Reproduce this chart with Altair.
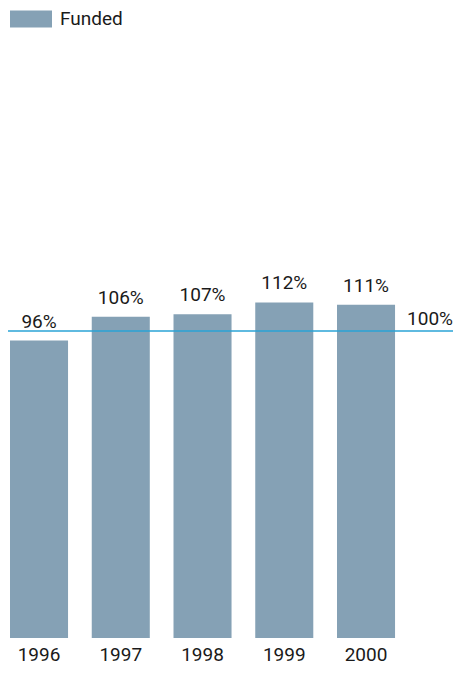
import altair as alt
import pandas as pd

YEARS = ["1996", "1997", "1998", "1999", "2000"]
FUNDED = [96, 106, 107, 112, 111]
FUNDED_LABELS = ["96%", "106%", "107%", "112%", "111%"]
SERIES = "Funded"
REF_VALUE = [100]
REF_LABEL = ["100%"]

BASE = -28.7
TOP = 222
FONT = "Roboto"
FS = 19
BAR_COLOR = "#85a1b5"
LINE_COLOR = "#2aa3d6"
TEXT_COLOR = "#1a1a1a"

df = pd.DataFrame({"year": YEARS, "funded": FUNDED, "label": FUNDED_LABELS,
                   "series": [SERIES] * len(YEARS)})
ref = pd.DataFrame({"ref": REF_VALUE, "ref_label": REF_LABEL})

x_enc = alt.X("year:N",
              scale=alt.Scale(paddingInner=0.29, paddingOuter=0.3545, align=0, round=False),
              axis=alt.Axis(title=None, labelAngle=0, domain=False, ticks=False,
                            tickSize=0, labelPadding=7, labelFontSize=FS,
                            labelFont=FONT, labelColor=TEXT_COLOR, grid=False))
y_scale = alt.Scale(domain=[BASE, TOP], nice=False, zero=False)

bars = alt.Chart(df).mark_bar().encode(
    x=x_enc,
    y=alt.Y("funded:Q", scale=y_scale, axis=None),
    y2=alt.datum(BASE),
    color=alt.Color("series:N", scale=alt.Scale(range=[BAR_COLOR]),
                    legend=alt.Legend(title=None, orient="none", legendX=0, legendY=-42,
                                      symbolType="M-1,-0.405H1V0.405H-1Z", symbolSize=1764,
                                      symbolStrokeWidth=0, labelFont=FONT, labelFontSize=FS,
                                      labelColor=TEXT_COLOR, labelOffset=8, padding=0)),
)

labels = alt.Chart(df).mark_text(font=FONT, fontSize=FS, color=TEXT_COLOR, dy=-13,
                                 baseline="alphabetic").encode(
    x=alt.X("year:N"),
    y=alt.Y("funded:Q", scale=y_scale),
    text="label:N",
)

rule = alt.Chart(ref).mark_rule(color=LINE_COLOR, strokeWidth=1.5).encode(
    y=alt.Y("ref:Q", scale=y_scale),
    x=alt.value(-2),
    x2=alt.value(443),
)

ref_text = alt.Chart(ref).mark_text(font=FONT, fontSize=FS, color=TEXT_COLOR, align="right",
                                    baseline="alphabetic", dy=-6).encode(
    y=alt.Y("ref:Q", scale=y_scale),
    x=alt.value(443),
    text="ref_label:N",
)

chart = alt.layer(bars, labels, rule, ref_text).properties(
    width=443, height=598,
    padding={"left": 2, "top": 32, "right": 0, "bottom": 27},
    autosize=alt.AutoSizeParams(type="none"),
).configure_view(stroke=None)

chart.save("out.html", embed_options={"renderer": "svg", "actions": False})
